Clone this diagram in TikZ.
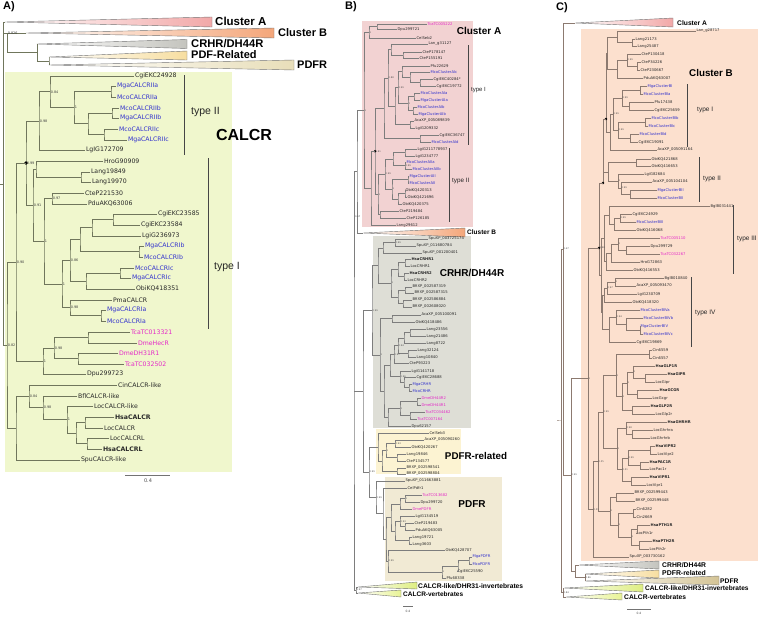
\documentclass[tikz,border=0pt]{standalone}
\usepackage{fontspec}
\setmainfont{DejaVu Sans}
\newfontfamily\lsans{Liberation Sans}
\usetikzlibrary{calc}
\definecolor{txt}{RGB}{40,40,40}
\definecolor{blu}{RGB}{50,50,205}
\definecolor{mag}{RGB}{228,40,200}
\definecolor{brA}{RGB}{112,118,92}
\definecolor{brB}{RGB}{125,125,125}
\definecolor{brC}{RGB}{140,122,112}
\definecolor{boxA}{RGB}{240,247,205}
\definecolor{pinkT}{RGB}{242,168,168}
\definecolor{orT}{RGB}{244,166,122}
\definecolor{grT}{RGB}{196,196,190}
\definecolor{ylT}{RGB}{247,222,160}
\definecolor{bgT}{RGB}{232,222,185}
\definecolor{tanT}{RGB}{212,196,150}
\definecolor{lmT}{RGB}{222,238,130}
\definecolor{lmTT}{RGB}{232,243,150}
\definecolor{boxBa}{RGB}{242,210,210}
\definecolor{boxBc}{RGB}{222,222,214}
\definecolor{boxBr}{RGB}{252,243,210}
\definecolor{boxBd}{RGB}{241,234,212}
\definecolor{boxC}{RGB}{252,224,206}
\definecolor{brk}{RGB}{70,70,70}
\newcommand\bfsz[1]{\lsans\bfseries\fontsize{#1}{#1}\selectfont}
\newcommand\rgsz[1]{\lsans\fontsize{#1}{#1}\selectfont}
\newcommand\tleaf[5][txt]{\node[leaf,text=#1] (#2) at (#3,#4) {#5};}
\newcommand\tjoin[5][]{%
  \path let \p1=(#4), \p2=(#5) in ({#3pt},{(\y1+\y2)/2}) coordinate (#2);
  \draw[br] (#4) -| (#2) |- (#5);
  \if\relax\detokenize{#1}\relax\else\node[sup] (#2-l) at (#2) {#1};\fi}
\newcommand\tjoiny[6][]{%
  \coordinate (#2) at (#3,#4);
  \draw[br] (#5) -| (#2);
  \draw[br] (#2) |- (#6);
  \if\relax\detokenize{#1}\relax\else\node[sup] (#2-l) at (#2) {#1};\fi}
\begin{document}
\begin{tikzpicture}[x=1pt,y=-1pt,
  tri/.style={draw=black!55,line width=0.4pt},
  brack/.style={draw=brk,line width=0.6pt},
  scl/.style={draw=black!55,line width=0.8pt}]
\useasboundingbox (0,0) rectangle (759,616);
\fill[white] (0,0) rectangle (759,616);
% ---------- backgrounds ----------
\fill[boxA] (5,72) rectangle (232,472);
\fill[boxBa] (362,21) rectangle (473,227);
\fill[boxBc] (373,236) rectangle (471,428);
\fill[boxBr] (376,429) rectangle (461,474);
\fill[boxBd] (385,477) rectangle (502,581);
\fill[boxC] (581,29) rectangle (758,561);
% ---------- panel letters ----------
\node[anchor=west,inner sep=0pt,font=\bfsz{11}] (labA) at (3,7) {A)};
\node[anchor=west,inner sep=0pt,font=\bfsz{11}] (labB) at (345,7) {B)};
\node[anchor=west,inner sep=0pt,font=\bfsz{11}] (labC) at (556,7.5) {C)};
% ================= PANEL A =================
\shade[tri,left color=white,right color=pinkT] (5,22) -- (212,17) -- (212,27) -- cycle;
\shade[tri,left color=white,right color=orT] (26,33) -- (274,28) -- (274,38) -- cycle;
\shade[tri,left color=white,right color=grT] (37,44) -- (187,39.5) -- (187,48.5) -- cycle;
\shade[tri,left color=white,right color=ylT] (49,57) -- (187,51) -- (187,60) -- cycle;
\shade[tri,left color=white,right color=bgT] (49,65) -- (294,60) -- (294,70) -- cycle;
\node[anchor=west,inner sep=0pt,font=\bfsz{11.5}] (tAca) at (215,21) {Cluster A};
\node[anchor=west,inner sep=0pt,font=\bfsz{11}] (tAcb) at (278,33) {Cluster B};
\node[anchor=west,inner sep=0pt,font=\bfsz{11.2}] (tAcr) at (191,44) {CRHR/DH44R};
\node[anchor=west,inner sep=0pt,font=\bfsz{11}] (tApr) at (191,55) {PDF-Related};
\node[anchor=west,inner sep=0pt,font=\bfsz{11}] (tApd) at (297,65) {PDFR};
\node[inner sep=0pt,font=\bfsz{16}] (tAcal) at (244,135) {CALCR};
\begin{scope}[br/.style={draw=brA,line width=0.75pt},
  leaf/.style={anchor=west,inner sep=0.8pt,font=\fontsize{6.2}{7}\selectfont},
  sup/.style={anchor=west,inner sep=0.6pt,font=\fontsize{3.4}{4}\selectfont,text=black!75},
  dotn/.style={circle,fill=black,inner sep=0pt,minimum size=3.6pt}]
\tleaf{A1}{134}{76}{CgiEKC24928}
\tleaf[blu]{A2}{116}{86}{MgaCALCRIIa}
\tleaf[blu]{A3}{116}{97}{McoCALCRIIa}
\tleaf[blu]{A4}{119}{108}{McoCALCRIIb}
\tleaf[blu]{A5}{119}{118}{MgaCALCRIIb}
\tleaf[blu]{A6}{118}{129}{McoCALCRIIc}
\tleaf[blu]{A7}{127}{140}{MgaCALCRIIc}
\tleaf{A8}{85}{150}{LgIG172709}
\tleaf{A9}{103}{161}{HroG90909}
\tleaf{A10}{90}{172}{Lang19849}
\tleaf{A11}{91}{182}{Lang19970}
\tleaf{A12}{84}{193}{CteP221530}
\tleaf{A13}{87}{204}{PduAKQ63006}
\tleaf{A14}{157}{214}{CgiEKC23585}
\tleaf{A15}{140}{225}{CgiEKC23584}
\tleaf{A16}{141}{236}{LgiG236973}
\tleaf[blu]{A17}{144}{246}{MgaCALCRIb}
\tleaf[blu]{A18}{143}{257}{McoCALCRIb}
\tleaf[blu]{A19}{134}{268}{McoCALCRIc}
\tleaf[blu]{A20}{131}{278}{MgaCALCRIc}
\tleaf{A21}{135}{289}{ObiKQ418351}
\tleaf{A22}{112}{300}{PmaCALCR}
\tleaf[blu]{A23}{106}{310}{MgaCALCRIa}
\tleaf[blu]{A24}{106}{321}{McoCALCRIa}
\tleaf[mag]{A25}{130}{332}{TcaTC013321}
\tleaf[mag]{A26}{137}{343}{DmeHecR}
\tleaf[mag]{A27}{118}{353}{DmeDH31R1}
\tleaf[mag]{A28}{124}{364}{TcaTC032502}
\tleaf{A29}{86}{374}{Dpu299723}
\tleaf{A30}{117}{385}{CinCALCR-like}
\tleaf{A31}{77}{396}{BflCALCR-like}
\tleaf{A32}{93}{406}{LocCALCR-like}
\tleaf{A33}{114}{417}{\bfseries HsaCALCR}
\tleaf{A34}{103}{428}{LocCALCR}
\tleaf{A35}{109}{438}{LocCALCRL}
\tleaf{A36}{102}{449}{\bfseries HsaCALCRL}
\tleaf{A37}{80}{460}{SpuCALCR-like}
\tjoin{Aa}{111}{A2}{A3}
\tjoin{Ab}{112}{A4}{A5}
\tjoin{Ac}{104}{A6}{A7}
\tjoin{Abc}{88}{Ab}{Ac}
\tjoin[1]{Aabc}{74}{Aa}{Abc}
\tjoin[0.84]{An084}{50}{A1}{Aabc}
\tjoin[0.98]{An098}{39}{An084}{A8}
\tjoin{Alang}{81}{A10}{A11}
\tjoin{Ahl}{36}{A9}{Alang}
\tjoin[0.97]{Actp}{52}{A12}{A13}
\tjoin{Acgi}{113}{A14}{A15}
\tjoin{Acgl}{92}{Acgi}{A16}
\tjoin{Amgb}{139}{A17}{A18}
\tjoin{Acglm}{80}{Acgl}{Amgb}
\tjoin{Amgc}{120}{A19}{A20}
\tjoin{Amgco}{86}{Amgc}{A21}
\tjoin[0.86]{An086}{70}{Acglm}{Amgco}
\tjoin{Amga}{101}{A23}{A24}
\tjoin[0.98]{An098b}{70}{A22}{Amga}
\tjoin[1]{An1a}{62}{An086}{An098b}
\tjoin[1]{An1b}{44}{Actp}{An1a}
\tjoin[0.91]{An091}{33}{Ahl}{An1b}
\tjoin[0.99]{An099}{26}{An098}{An091}
\node[dotn] (AdotA) at (An099) {};
\tjoin{Atcd}{88}{A25}{A26}
\tjoin{Add}{78}{A27}{A28}
\tjoin[0.98]{An098c}{54}{Atcd}{Add}
\tjoin[1]{An1c}{43}{An098c}{A29}
\tjoin[0.90]{An090}{16}{An099}{An1c}
\tjoin{Ahc}{85}{A33}{A34}
\tjoin{Alc}{87}{A35}{A36}
\tjoin{Ahclc}{76}{Ahc}{Alc}
\tjoin[1]{An1d}{67}{A32}{Ahclc}
\tjoin[0.98]{An098d}{43}{A31}{An1d}
\tjoin[0.84]{An084b}{29}{A30}{An098d}
\tjoin{Adeut}{16}{An084b}{A37}
\tjoin[0.82]{An082}{7}{An090}{Adeut}
% top part
\coordinate (AcA) at (5,22);
\coordinate (AcB) at (26,33);
\coordinate (AcC) at (37,44);
\coordinate (AcPR) at (49,57);
\coordinate (AcPD) at (49,65);
\tjoin{AnP}{49}{AcPR}{AcPD}
\tjoiny{AnC}{37}{52}{AcC}{AnP}
\tjoiny[0.826]{An0826}{7}{33}{AcB}{AnC}
\tjoiny{AnR}{3}{184}{AcA}{An082}
\draw[br] (An0826) -- (An0826 -| AnR);
\coordinate (AstubA) at (0,184);
\draw[br] (AstubA) -- (AnR);
\end{scope}
% brackets A
\coordinate (AbkIIa) at (184,75); \coordinate (AbkIIb) at (184,155);
\draw[brack] (AbkIIa) -- (AbkIIb);
\node[anchor=west,inner sep=0pt,font=\rgsz{10.5},text=black!85] (AtII) at (191,112) {type II};
\coordinate (AbkIa) at (208,158); \coordinate (AbkIb) at (208,329);
\draw[brack] (AbkIa) -- (AbkIb);
\node[anchor=west,inner sep=0pt,font=\rgsz{10.5},text=black!85] (AtI) at (214,267) {type I};
\coordinate (AscL) at (125,475); \coordinate (AscR) at (170,475);
\draw[scl] (AscL) -- (AscR);
\node[font=\fontsize{5}{6}\selectfont,text=black!70,inner sep=0pt] (AscT) at (148,481) {0.4};
% ================= PANEL B =================
\shade[tri,left color=white,right color=orT] (363,233) -- (465,228) -- (465,237) -- cycle;
\shade[tri,left color=white,right color=lmT] (358,587) -- (417,582) -- (417,589) -- cycle;
\shade[tri,left color=white,right color=lmTT] (358,593) -- (401,590) -- (401,597) -- cycle;
\node[inner sep=0pt,font=\bfsz{10}] (tBca) at (479,31) {Cluster A};
\node[anchor=west,inner sep=0pt,font=\bfsz{6.5}] (tBcb) at (467,232.5) {Cluster B};
\node[inner sep=0pt,font=\bfsz{10}] (tBcr) at (472,273) {CRHR/DH44R};
\node[inner sep=0pt,font=\bfsz{9.8}] (tBpr) at (476,456) {PDFR-related};
\node[inner sep=0pt,font=\bfsz{10}] (tBpd) at (472,504) {PDFR};
\node[anchor=west,inner sep=0pt,font=\bfsz{6.7}] (tBcl) at (418,586) {CALCR-like/DHR31-invertebrates};
\node[anchor=west,inner sep=0pt,font=\bfsz{6.5}] (tBcv) at (403,594) {CALCR-vertebrates};
\begin{scope}[br/.style={draw=brB,line width=0.4pt},
  leaf/.style={anchor=west,inner sep=0.4pt,font=\fontsize{3.75}{4}\selectfont},
  sup/.style={anchor=west,inner sep=0.4pt,font=\fontsize{2.3}{3}\selectfont,text=black!70},
  dotn/.style={circle,fill=black,inner sep=0pt,minimum size=2.6pt}]
\tleaf[mag]{Ba1}{427}{24}{TcaTC005222}
\tleaf{Ba2}{397}{29}{Dpu299721}
\tleaf{Ba3}{416}{38}{CelSeb2}
\tleaf{Ba4}{428}{44}{Lan\_g31127}
\tleaf{Ba5}{422}{52}{CteP178147}
\tleaf{Ba6}{419}{58}{CteP155191}
\tleaf{Ba7}{430}{66}{Pfu22629}
\tleaf[blu]{Ba8}{430}{72}{McoClusterAIc}
\tleaf{Ba9}{433}{79}{CgiEKC40284*}
\tleaf{Ba10}{436}{86}{CgiEKC19772}
\tleaf[blu]{Ba11}{420}{93}{McoClusterAIa}
\tleaf[blu]{Ba12}{420}{100}{MgaClusterAIa}
\tleaf[blu]{Ba13}{417}{107}{McoClusterAIb}
\tleaf[blu]{Ba14}{418}{114}{MgaClusterAIb}
\tleaf{Ba15}{414}{121}{AcaXP\_005089839}
\tleaf{Ba16}{415}{128}{LgiG209332}
\tleaf{Ba17}{439}{135}{CgiEKC36747}
\tleaf[blu]{Ba18}{431}{142}{McoClusterAId}
\tleaf{Ba19}{417}{149}{LgiG211778937}
\tleaf{Ba20}{415}{156}{LgiG234777}
\tleaf[blu]{Ba21}{406}{162}{McoClusterAIIa}
\tleaf[blu]{Ba22}{412}{169}{McoClusterAIIb}
\tleaf[blu]{Ba23}{409}{176}{MgaClusterAII}
\tleaf[blu]{Ba24}{409}{183}{McoClusterAII}
\tleaf{Ba25}{405}{190}{ObiKQ420313}
\tleaf{Ba26}{407}{197}{ObiKQ421696}
\tleaf{Ba27}{402}{204}{ObiKQ420375}
\tleaf{Ba28}{399}{211}{CteP219484}
\tleaf{Ba29}{406}{218}{CteP126185}
\tleaf{Ba30}{396}{225}{Lang29612}
\tjoin{Bp12}{377}{Ba1}{Ba2}
\tjoin[1]{Bp123}{369}{Bp12}{Ba3}
\tjoin{Bp56}{403}{Ba5}{Ba6}
\tjoin{Bp456}{391}{Ba4}{Bp56}
\tjoin{Bp910}{420}{Ba9}{Ba10}
\tjoin{Bp8910}{410}{Ba8}{Bp910}
\tjoin{Bp7}{402}{Ba7}{Bp8910}
\tjoin{Bp1112}{414}{Ba11}{Ba12}
\tjoin{Bp1314}{413}{Ba13}{Ba14}
\tjoin[1]{BpM}{408}{Bp1112}{Bp1314}
\tjoin[0.99]{Bp7M}{398}{Bp7}{BpM}
\tjoin{Bp1516}{410}{Ba15}{Ba16}
\tjoin{Bp7M15}{395}{Bp7M}{Bp1516}
\tjoin[0.88]{BpI1}{388}{Bp456}{Bp7M15}
\tjoin{Bp1718}{420}{Ba17}{Ba18}
\tjoin{BpI}{384}{BpI1}{Bp1718}
\tjoin{Bp1920}{405}{Ba19}{Ba20}
\tjoin[0.99]{Bp2122}{405}{Ba21}{Ba22}
\tjoin{BpII1}{393}{Bp1920}{Bp2122}
\tjoin{Bp2324}{408}{Ba23}{Ba24}
\tjoin{Bp2526}{405}{Ba25}{Ba26}
\tjoin{Bp2527}{398}{Bp2526}{Ba27}
\tjoin[1]{Bp2327}{392}{Bp2324}{Bp2527}
\tjoin[0.99]{BpII2}{385}{BpII1}{Bp2327}
\tjoin{Bp2829}{380}{Ba28}{Ba29}
\tjoin[1]{BpII}{378}{BpII2}{Bp2829}
\tjoin[0.81]{BpIII}{375}{BpI}{BpII}
\node[dotn] (BdotA) at (BpIII) {};
\tjoin{BpIV}{371}{BpIII}{Ba30}
\tjoin[1]{BnCA}{364}{Bp123}{BpIV}
\coordinate (BcB) at (363,233);
\tjoin{BnTop}{357}{BnCA}{BcB}
% CRHR
\tleaf{Bc1}{428}{239}{SpuXP\_003725174}
\tleaf{Bc2}{416}{246}{SpuXP\_011680784}
\tleaf{Bc3}{422}{253}{SpuXP\_001200401}
\tleaf{Bc4}{411}{259}{\bfseries HsaCRHR1}
\tleaf{Bc5}{410}{266}{LocCRHR1}
\tleaf{Bc6}{409}{273}{\bfseries HsaCRHR2}
\tleaf{Bc7}{407}{280}{LocCRHR2}
\tleaf{Bc8}{412}{287}{BfiXP\_002587319}
\tleaf{Bc9}{414}{293}{BfiXP\_002587315}
\tleaf{Bc10}{412}{300}{BfiXP\_002586884}
\tleaf{Bc11}{412}{307}{BfiXP\_002608020}
\tleaf{Bc12}{421}{315}{AcaXP\_005100091}
\tleaf{Bc13}{415}{322}{ObiKQ418486}
\tleaf{Bc14}{426}{329}{Lang23556}
\tleaf{Bc15}{426}{336}{Lang21486}
\tleaf{Bc16}{426}{343}{Lang8722}
\tleaf{Bc17}{417}{350}{Lang32124}
\tleaf{Bc18}{416}{357}{Lang10840}
\tleaf{Bc19}{409}{363}{CteP93223}
\tleaf{Bc20}{411}{371}{LgiG141718}
\tleaf{Bc21}{416}{377}{CgiEKC28688}
\tleaf[blu]{Bc22}{412}{384}{MgaCRHR}
\tleaf[blu]{Bc23}{412}{391}{McoCRHR}
\tleaf[mag]{Bc24}{421}{398}{DmeDH44R2}
\tleaf[mag]{Bc25}{421}{405}{DmeDH44R1}
\tleaf[mag]{Bc26}{425}{412}{TcaTC034462}
\tleaf[mag]{Bc27}{417}{419}{TcaTC007164}
\tleaf{Bc28}{411}{426}{Dpu62157}
\tjoin[0.99]{Bq12}{395}{Bc1}{Bc2}
\tjoin{Bq123}{383}{Bq12}{Bc3}
\tjoin{Bq45}{405}{Bc4}{Bc5}
\tjoin{Bq67}{404}{Bc6}{Bc7}
\tjoin{Bq4567}{398}{Bq45}{Bq67}
\tjoin{Bq89}{405}{Bc8}{Bc9}
\tjoin{Bq1011}{403}{Bc10}{Bc11}
\tjoin{Bq811}{398}{Bq89}{Bq1011}
\tjoin[1]{BqV}{391}{Bq4567}{Bq811}
\tjoin{BqD}{378}{Bq123}{BqV}
\tjoin{Bq1213}{392}{Bc12}{Bc13}
\tjoin{Bq1415}{410}{Bc14}{Bc15}
\tjoin{Bq1416}{404}{Bq1415}{Bc16}
\tjoin{Bq1718}{408}{Bc17}{Bc18}
\tjoin[0.94]{BqL}{398}{Bq1416}{Bq1718}
\tjoin[0.97]{BqLx}{394}{BqL}{Bc19}
\tjoin{Bq2223}{409}{Bc22}{Bc23}
\tjoin{Bq2123}{404}{Bc21}{Bq2223}
\tjoin[0.96]{Bq2023}{400}{Bc20}{Bq2123}
\tjoin{BqLo}{390}{BqLx}{Bq2023}
\tjoin{Bq2425}{417}{Bc24}{Bc25}
\tjoin{Bq2627}{410}{Bc26}{Bc27}
\tjoin[1]{BqIns}{400}{Bq2425}{Bq2627}
\tjoin{BqArt}{388}{BqIns}{Bc28}
\tjoin{BqPr}{384}{BqLo}{BqArt}
\tjoin[1]{BqP2}{380}{Bq1213}{BqPr}
\tjoin[0.99]{BnCR}{372}{BqD}{BqP2}
% PDFR-related
\tleaf{Br1}{429}{433}{CelSeb3}
\tleaf{Br2}{424}{440}{AcaXP\_005090260}
\tleaf{Br3}{411}{447}{ObiKQ420267}
\tleaf{Br4}{406}{454}{Lang19846}
\tleaf{Br5}{406}{461}{CteP134577}
\tleaf{Br6}{406}{468}{BfiXP\_002598541}
\tleaf{Br7}{406}{474}{BfiXP\_002598804}
\tjoin[0.93]{Br23}{395}{Br2}{Br3}
\tjoin{Br45}{397}{Br4}{Br5}
\tjoin[1]{Br25}{386}{Br23}{Br45}
\tjoin{Br67}{397}{Br6}{Br7}
\tjoin{Br27}{382}{Br25}{Br67}
\tjoin{BnPR}{378}{Br1}{Br27}
% PDFR
\tleaf{Bd1}{405}{481}{SpuXP\_011663881}
\tleaf{Bd2}{407}{488}{CelPdfr1}
\tleaf[mag]{Bd3}{422}{495}{TcaTC013682}
\tleaf{Bd4}{420}{502}{Dpu299720}
\tleaf[mag]{Bd5}{412}{509}{DmePDFR}
\tleaf{Bd6}{415}{516}{LgiG134519}
\tleaf{Bd7}{414}{523}{CteP219483}
\tleaf{Bd8}{415}{530}{PduAKQ63005}
\tleaf{Bd9}{412}{537}{Lang19721}
\tleaf{Bd10}{412}{544}{Lang3603}
\tleaf{Bd11}{445}{550}{ObiKQ428707}
\tleaf[blu]{Bd12}{472}{557}{MgaPDFR}
\tleaf[blu]{Bd13}{472}{564}{McoPDFR}
\tleaf{Bd14}{457}{571}{CgiEKC25590}
\tleaf{Bd15}{446}{578}{Pfu68338}
\tjoin[1]{Bd34}{405}{Bd3}{Bd4}
\tjoin{Bd35}{400}{Bd34}{Bd5}
\tjoin{Bd78}{405}{Bd7}{Bd8}
\tjoin[0.93]{Bd68}{400}{Bd6}{Bd78}
\tjoin{Bd910}{409}{Bd9}{Bd10}
\tjoin{Bd610}{395}{Bd68}{Bd910}
\tjoin{BdArt}{391}{Bd35}{Bd610}
\tjoin{Bd1213}{469}{Bd12}{Bd13}
\tjoin{Bd1214}{458}{Bd1213}{Bd14}
\tjoin[1]{Bd1215}{442}{Bd1214}{Bd15}
\tjoin[0.99]{Bd1115}{388}{Bd11}{Bd1215}
\tjoin{BdLo}{386}{BdArt}{Bd1115}
\tjoin{Bd2L}{383}{Bd2}{BdLo}
\tjoin[0.99]{BnPD}{376}{Bd1}{Bd2L}
\tjoin[0.99]{BnPP}{369}{BnPR}{BnPD}
\tjoin{BnCRPP}{363}{BnCR}{BnPP}
\coordinate (BtL) at (358,587);
\coordinate (BtV) at (358,593);
\tjoin[0.97]{BnCAL}{356}{BtL}{BtV}
\tjoin{BnRoot}{354}{BnTop}{BnCAL}
\draw[br] (BnCRPP) -- (BnCRPP -| BnRoot);
\node[sup] (Bl067) at (354.5,217) {0.67};
\end{scope}
\coordinate (BbkIa) at (468,45); \coordinate (BbkIb) at (468,145);
\draw[brack,line width=0.45pt] (BbkIa) -- (BbkIb);
\node[anchor=west,inner sep=0pt,font=\rgsz{6},text=black!85] (BtI) at (471,90) {type I};
\coordinate (BbkIIa) at (449,148); \coordinate (BbkIIb) at (449,222);
\draw[brack,line width=0.45pt] (BbkIIa) -- (BbkIIb);
\node[anchor=west,inner sep=0pt,font=\rgsz{6.3},text=black!85] (BtII) at (452,181) {type II};
\coordinate (BscL) at (403,606); \coordinate (BscR) at (413,606);
\draw[scl,line width=0.5pt] (BscL) -- (BscR);
\node[font=\fontsize{3}{3.5}\selectfont,text=black!70,inner sep=0pt] (BscT) at (408,611) {0.4};
% ================= PANEL C =================
\shade[tri,left color=white,right color=pinkT] (575,23) -- (673,18) -- (673,27) -- cycle;
\shade[tri,left color=white,right color=grT] (579,565) -- (659,561) -- (659,569) -- cycle;
\shade[tri,left color=white,right color=ylT] (585,574) -- (659,570) -- (659,578) -- cycle;
\shade[tri,left color=white,right color=tanT] (585,581) -- (719,576) -- (719,585) -- cycle;
\shade[tri,left color=white,right color=lmT] (564,588) -- (643,584) -- (643,592) -- cycle;
\shade[tri,left color=white,right color=lmTT] (566,597) -- (622,593) -- (622,600) -- cycle;
\node[anchor=west,inner sep=0pt,font=\bfsz{6.7}] (tCca) at (677,23) {Cluster A};
\node[inner sep=0pt,font=\bfsz{9.8}] (tCcb) at (711,73) {Cluster B};
\node[anchor=west,inner sep=0pt,font=\bfsz{6.8}] (tCcr) at (662,565) {CRHR/DH44R};
\node[anchor=west,inner sep=0pt,font=\bfsz{6.9}] (tCpr) at (662,573.5) {PDFR-related};
\node[anchor=west,inner sep=0pt,font=\bfsz{6.7}] (tCpd) at (720,581) {PDFR};
\node[anchor=west,inner sep=0pt,font=\bfsz{6.6}] (tCcl) at (645,588.5) {CALCR-like/DHR31-invertebrates};
\node[anchor=west,inner sep=0pt,font=\bfsz{6.7}] (tCcv) at (624,597) {CALCR-vertebrates};
\begin{scope}[br/.style={draw=brC,line width=0.45pt},
  leaf/.style={anchor=west,inner sep=0.4pt,font=\fontsize{3.75}{4}\selectfont},
  sup/.style={anchor=west,inner sep=0.4pt,font=\fontsize{2.3}{3}\selectfont,text=black!70},
  dotn/.style={circle,fill=black,inner sep=0pt,minimum size=2.6pt}]
\tleaf{Cb1}{696}{31}{Lan\_g28717}
\tleaf{Cb2}{635}{39}{Lang21173}
\tleaf{Cb3}{637}{46}{Lang25487}
\tleaf{Cb4}{641}{54}{CteP130418}
\tleaf{Cb5}{641}{62}{CteP34226}
\tleaf{Cb6}{640}{70}{CteP230667}
\tleaf{Cb7}{643}{78}{PduAKQ63007}
\tleaf[blu]{Cb8}{647}{86}{MgaClusterBI}
\tleaf[blu]{Cb9}{643}{94}{McoClusterBIa}
\tleaf{Cb10}{654}{102}{Pfu17438}
\tleaf{Cb11}{654}{110}{CgiEKC25659}
\tleaf[blu]{Cb12}{651}{118}{McoClusterBIb}
\tleaf[blu]{Cb13}{648}{126}{McoClusterBIc}
\tleaf[blu]{Cb14}{639}{134}{McoClusterBId}
\tleaf{Cb15}{638}{142}{CgiEKC19091}
\tleaf{Cb16}{657}{150}{AcaXP\_005091164}
\tleaf{Cb17}{651}{159}{ObiKQ421868}
\tleaf{Cb18}{651}{166}{ObiKQ416653}
\tleaf{Cb19}{644}{174}{LgiG82684}
\tleaf{Cb20}{652}{182}{AcaXP\_005104104}
\tleaf[blu]{Cb21}{657}{190}{MgaClusterBII}
\tleaf[blu]{Cb22}{657}{198}{McoClusterBII}
\tleaf{Cb23}{710}{206}{BglB031441}
\tleaf{Cb24}{632}{214}{CgiEKC24929}
\tleaf[blu]{Cb25}{636}{222}{McoClusterBIII}
\tleaf{Cb26}{636}{230}{ObiKQ416068}
\tleaf[mag]{Cb27}{660}{238}{TcaTC005110}
\tleaf{Cb28}{650}{246}{Dpu299729}
\tleaf[mag]{Cb29}{660}{254}{TcaTC032267}
\tleaf{Cb30}{640}{262}{HroG72863}
\tleaf{Cb31}{633}{270}{ObiKQ416553}
\tleaf{Cb32}{664}{278}{BglB010840}
\tleaf{Cb33}{636}{286}{AcaXP\_005093470}
\tleaf{Cb34}{637}{294}{LgiG230709}
\tleaf{Cb35}{632}{302}{ObiKQ418320}
\tleaf[blu]{Cb36}{640}{310}{McoClusterBIVa}
\tleaf[blu]{Cb37}{643}{318}{McoClusterBIVb}
\tleaf[blu]{Cb38}{640}{326}{MgaClusterBIV}
\tleaf[blu]{Cb39}{643}{334}{McoClusterBIVc}
\tleaf{Cb40}{636}{342}{CgiEKC19869}
\tleaf{Cb41}{652}{350}{Cin6559}
\tleaf{Cb42}{652}{358}{Cin6557}
\tleaf{Cb43}{655}{366}{\bfseries HsaGLP1R}
\tleaf{Cb44}{667}{374}{\bfseries HsaGIPR}
\tleaf{Cb45}{655}{382}{LocGipr}
\tleaf{Cb46}{659}{390}{\bfseries HsaGCGR}
\tleaf{Cb47}{652}{398}{LocGcgr}
\tleaf{Cb48}{650}{406}{\bfseries HsaGLP2R}
\tleaf{Cb49}{655}{414}{LocGlp2r}
\tleaf{Cb50}{667}{422}{\bfseries HsaGHRHR}
\tleaf{Cb51}{653}{430}{LocGhrhra}
\tleaf{Cb52}{650}{438}{LocGhrhrb}
\tleaf{Cb53}{655}{446}{\bfseries HsaVIPR2}
\tleaf{Cb54}{657}{454}{LocVipr2}
\tleaf{Cb55}{649}{462}{\bfseries HsaPAC1R}
\tleaf{Cb56}{649}{469}{LocPac1r}
\tleaf{Cb57}{649}{477}{\bfseries HsaVIPR1}
\tleaf{Cb58}{646}{485}{LocVipr1}
\tleaf{Cb59}{634}{493}{BfiXP\_002599443}
\tleaf{Cb60}{635}{501}{BfiXP\_002599448}
\tleaf{Cb61}{636}{509}{Cin6282}
\tleaf{Cb62}{636}{517}{Cin2669}
\tleaf{Cb63}{650}{525}{\bfseries HsaPTH1R}
\tleaf{Cb64}{636}{533}{LocPth1r}
\tleaf{Cb65}{652}{541}{\bfseries HsaPTH2R}
\tleaf{Cb66}{649}{549}{LocPth2r}
\tleaf{Cb67}{629}{557}{SpuXP\_003730162}
\tjoin{Ck23}{632}{Cb2}{Cb3}
\tjoin{Ck1}{617}{Cb1}{Ck23}
\tjoin{Ck56}{637}{Cb5}{Cb6}
\tjoin[0.99]{Ck456}{627}{Cb4}{Ck56}
\tjoin{Ck47}{617}{Ck456}{Cb7}
\tjoin{CkTop}{607}{Ck1}{Ck47}
\tjoin{Ck89}{640}{Cb8}{Cb9}
\tjoin{Ck1011}{629}{Cb10}{Cb11}
\tjoin[0.99]{Ck811}{622}{Ck89}{Ck1011}
\tjoin{Ck1213}{645}{Cb12}{Cb13}
\tjoin{Ck1415}{630}{Cb14}{Cb15}
\tjoin[0.99]{Ck1215}{618}{Ck1213}{Ck1415}
\tjoin[0.99]{CkI1}{613}{Ck811}{Ck1215}
\tjoin{CkI}{610}{CkI1}{Cb16}
\tjoiny{CkD1}{606}{119}{CkTop}{CkI}
\node[dotn] (CdotA) at (CkD1) {};
\tjoin{Ck1718}{636}{Cb17}{Cb18}
\tjoin{Ck2122}{630}{Cb21}{Cb22}
\tjoin[0.99]{Ck2022}{621}{Cb20}{Ck2122}
\tjoin[1]{Ck1922}{618}{Cb19}{Ck2022}
\tjoin{CkII}{608}{Ck1718}{Ck1922}
\tjoiny{CkD2}{603}{183}{CkD1}{CkII}
\node[dotn] (CdotB) at (CkD2) {};
\tjoin[0.99]{Cm2425}{620}{Cb24}{Cb25}
\tjoin{Cm2426}{614}{Cm2425}{Cb26}
\tjoin{Cm2326}{609}{Cb23}{Cm2426}
\tjoin{Cm2829}{626}{Cb28}{Cb29}
\tjoin[1]{Cm2729}{618}{Cb27}{Cm2829}
\tjoin{Cm2730}{611}{Cm2729}{Cb30}
\tjoin{Cm2731}{606}{Cm2730}{Cb31}
\tjoin{CkIII}{604}{Cm2326}{Cm2731}
\tjoin[1]{Cm3233}{615}{Cb32}{Cb33}
\tjoin[0.97]{Cm3234}{607}{Cm3233}{Cb34}
\tjoin{Cm3235}{604}{Cm3234}{Cb35}
\tjoin{Cm3839}{640}{Cb38}{Cb39}
\tjoin{Cm3739}{626}{Cb37}{Cm3839}
\tjoin[0.94]{Cm3639}{616}{Cb36}{Cm3739}
\tjoin{Cm3640}{609}{Cm3639}{Cb40}
\tjoin{CkIV}{602}{Cm3235}{Cm3640}
\tjoin{CkIIIIV}{601}{CkIII}{CkIV}
\tjoiny[0.98]{CkD3}{599}{248}{CkD2}{CkIIIIV}
\node[dotn] (CdotC) at (CkD3) {};
\tjoin{Ck4142}{649}{Cb41}{Cb42}
\tjoin{Ck4445}{645}{Cb44}{Cb45}
\tjoin[1]{Ck4345}{633}{Cb43}{Ck4445}
\tjoin{Ck4647}{637}{Cb46}{Cb47}
\tjoin[1]{Ck4347}{627}{Ck4345}{Ck4647}
\tjoin{Ck4849}{632}{Cb48}{Cb49}
\tjoin[1]{CkGlu}{622}{Ck4347}{Ck4849}
\tjoin[1]{CkSA}{616}{Ck4142}{CkGlu}
\tjoin{Ck5152}{632}{Cb51}{Cb52}
\tjoin[0.98]{Ck5052}{626}{Cb50}{Ck5152}
\tjoin{Ck5354}{650}{Cb53}{Cb54}
\tjoin{Ck5556}{640}{Cb55}{Cb56}
\tjoin[0.99]{Ck5356}{628}{Ck5354}{Ck5556}
\tjoin{Ck5758}{631}{Cb57}{Cb58}
\tjoin[0.51]{Ck5358}{622}{Ck5356}{Ck5758}
\tjoin[1]{CkSB}{617}{Ck5052}{Ck5358}
\tjoin[0.99]{CkSec}{603}{CkSA}{CkSB}
\tjoin{Ck5960}{616}{Cb59}{Cb60}
\tjoin{Ck6162}{633}{Cb61}{Cb62}
\tjoin{Ck6364}{637}{Cb63}{Cb64}
\tjoin{Ck6566}{639}{Cb65}{Cb66}
\tjoin[1]{Ck6366}{631}{Ck6364}{Ck6566}
\tjoin[1]{Ck6166}{618}{Ck6162}{Ck6366}
\tjoin[1]{CkPTH}{610}{Ck5960}{Ck6166}
\tjoin[0.55]{CkSP}{598}{CkSec}{CkPTH}
\tjoin[0.51]{CkDeut}{593}{CkSP}{Cb67}
\tjoin[1]{CnB}{588}{CkD3}{CkDeut}
\coordinate (CtCR) at (579,565);
\coordinate (CtPR) at (585,574);
\coordinate (CtPD) at (585,581);
\tjoin[0.86]{CnPP}{585}{CtPR}{CtPD}
\tjoin{CnCP}{575}{CtCR}{CnPP}
\tjoin[0.99]{Cn099}{571}{CnB}{CnCP}
\coordinate (CtA) at (575,23);
\tjoin[0.47]{Cn047}{563}{CtA}{Cn099}
\coordinate (CtL) at (564,588);
\coordinate (CtV) at (566,597);
\tjoin[0.84]{Cn084}{563}{CtL}{CtV}
\tjoin{CnR}{561}{Cn047}{Cn084}
\coordinate (CstubA) at (557,420.7);
\draw[br] (CstubA) -- (CnR);
\end{scope}
\coordinate (CbkIa) at (687,84); \coordinate (CbkIb) at (687,147);
\draw[brack,line width=0.45pt] (CbkIa) -- (CbkIb);
\node[anchor=west,inner sep=0pt,font=\rgsz{6.5},text=black!85] (CtI) at (697,110) {type I};
\coordinate (CbkIIa) at (699,157); \coordinate (CbkIIb) at (699,202);
\draw[brack,line width=0.45pt] (CbkIIa) -- (CbkIIb);
\node[anchor=west,inner sep=0pt,font=\rgsz{6.5},text=black!85] (CtII) at (703,179) {type II};
\coordinate (CbkIIIa) at (733,205); \coordinate (CbkIIIb) at (733,274);
\draw[brack,line width=0.45pt] (CbkIIIa) -- (CbkIIIb);
\node[anchor=west,inner sep=0pt,font=\rgsz{6.5},text=black!85] (CtIII) at (737,239) {type III};
\coordinate (CbkIVa) at (691,277); \coordinate (CbkIVb) at (691,347);
\draw[brack,line width=0.45pt] (CbkIVa) -- (CbkIVb);
\node[anchor=west,inner sep=0pt,font=\rgsz{6.5},text=black!85] (CtIV) at (695,313) {type IV};
\coordinate (CscL) at (627,609); \coordinate (CscR) at (651,609);
\draw[scl,line width=0.5pt] (CscL) -- (CscR);
\node[font=\fontsize{3}{3.5}\selectfont,text=black!70,inner sep=0pt] (CscT) at (639,613.5) {0.4};
\end{tikzpicture}
\end{document}
